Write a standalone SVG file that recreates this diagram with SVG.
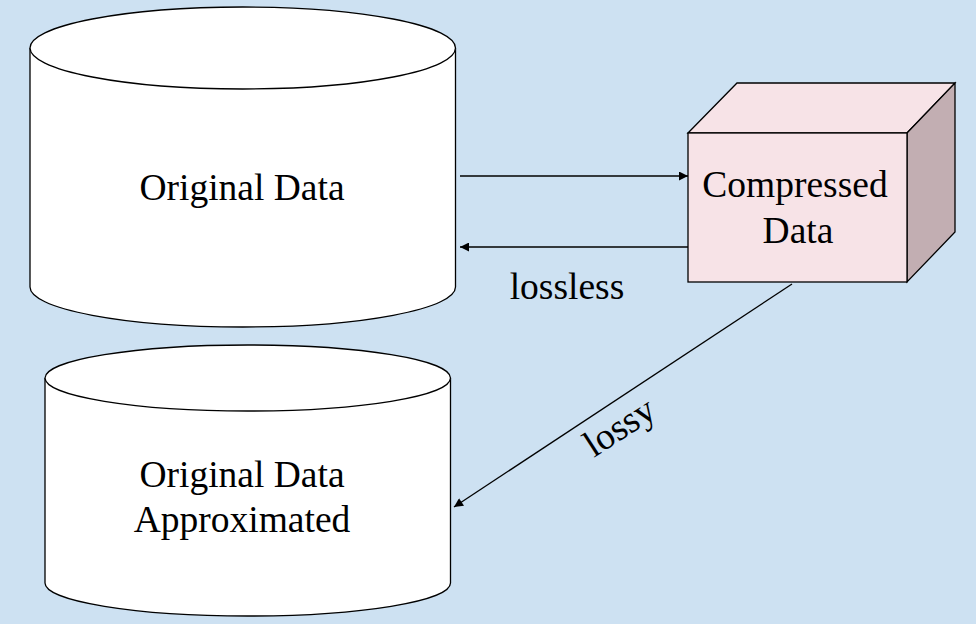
<svg xmlns="http://www.w3.org/2000/svg" width="976" height="624" viewBox="0 0 976 624">
<defs>
<style>
.bg{fill:#cde1f2}
.cyl{fill:#ffffff;stroke:#000;stroke-width:1.3}
.lbl{font-family:"Liberation Serif","Times New Roman",serif;font-size:37.5px;fill:#000;text-anchor:middle}
.conn{stroke:#000;stroke-width:1.3;fill:none}
.front{fill:#f7e3e7;stroke:#000;stroke-width:1.3}
.top{fill:#f7e3e7;stroke:#000;stroke-width:1.3}
.side{fill:#c2aeb2;stroke:#000;stroke-width:1.3}
</style>
<marker id="ah" viewBox="0 0 10 10" refX="10" refY="5" markerWidth="11" markerHeight="9" markerUnits="userSpaceOnUse" orient="auto">
<path d="M0,0 L10,5 L0,10 Z" fill="#000"/>
</marker>
<pattern id="tex" width="40" height="40" patternUnits="userSpaceOnUse">
<rect width="40" height="40" fill="#cde1f2"/>
<rect x="0" y="0" width="20" height="20" fill="#d3e5f4" opacity="0.6"/>
<rect x="20" y="20" width="20" height="20" fill="#c6ddf0" opacity="0.6"/>
</pattern>
</defs>
<rect class="bg" x="0" y="0" width="976" height="624" fill="url(#tex)"/>

<g id="original-data">
<path class="cyl" d="M30,48 A212.75,41 0 0 1 455.5,48 L455.5,287 A212.75,40 0 0 1 30,287 Z"/>
<path class="cyl" d="M30,48 A212.75,41 0 0 0 455.5,48" fill="none"/>
<text class="lbl" x="242" y="200">Original Data</text>
</g>

<g id="original-data-approximated">
<path class="cyl" d="M45,378 A202.75,33 0 0 1 450.5,378 L450.5,583 A202.75,33 0 0 1 45,583 Z"/>
<path class="cyl" d="M45,378 A202.75,33 0 0 0 450.5,378" fill="none"/>
<text class="lbl" x="242" y="487">Original Data</text>
<text class="lbl" x="242" y="532">Approximated</text>
</g>

<g id="compressed-data">
<polygon class="top" points="688,133 737,83 955,83 907,133"/>
<polygon class="side" points="907,133 955,83 955,232 907,282"/>
<rect class="front" x="688" y="133" width="219" height="149"/>
<text class="lbl" x="795" y="197">Compressed</text>
<text class="lbl" x="798" y="243">Data</text>
</g>

<g id="connectors">
<line class="conn" x1="460" y1="176" x2="688" y2="176" marker-end="url(#ah)"/>
<line class="conn" x1="688" y1="247" x2="460" y2="247" marker-end="url(#ah)"/>
<line class="conn" x1="792" y1="284" x2="454" y2="507" marker-end="url(#ah)"/>
<text class="lbl" x="567" y="299">lossless</text>
<text class="lbl" x="0" y="0" transform="translate(626,437) rotate(-33)">lossy</text>
</g>
</svg>
